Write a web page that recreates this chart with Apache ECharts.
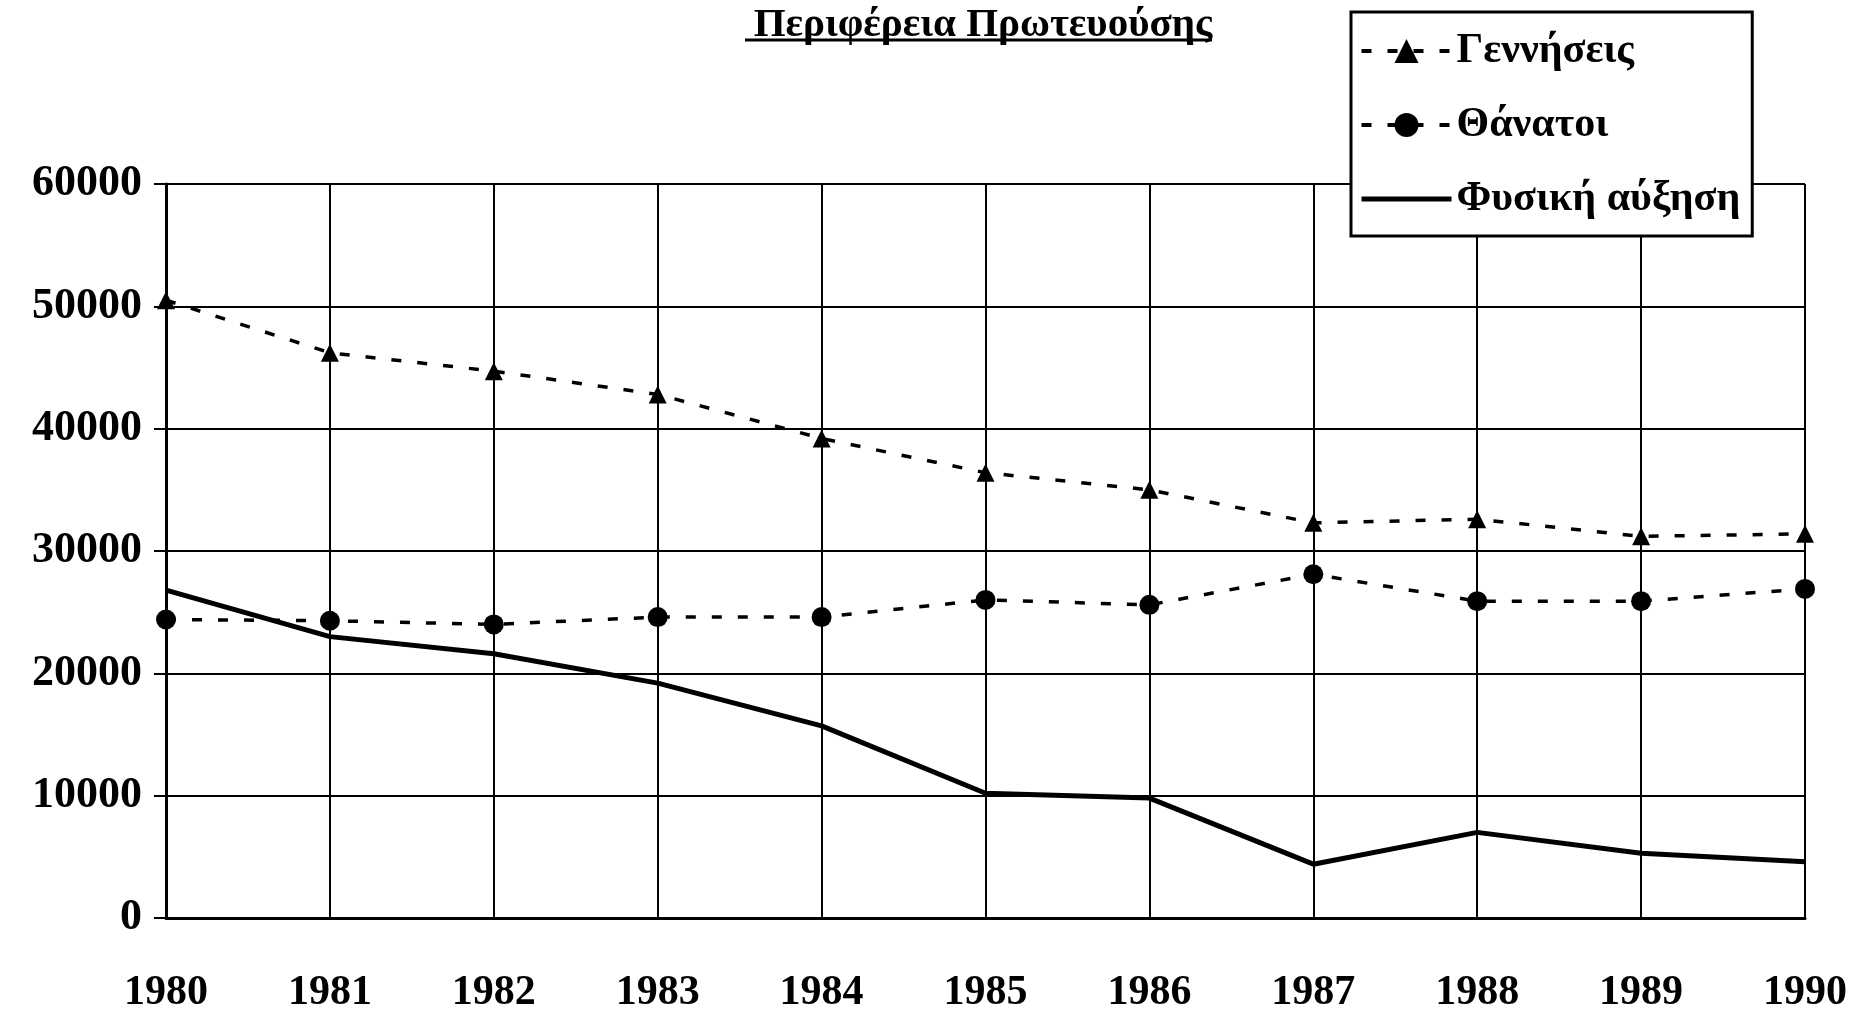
<!DOCTYPE html>
<html><head><meta charset="utf-8">
<script src="https://cdn.jsdelivr.net/npm/echarts@6/dist/echarts.min.js"></script>
<style>html,body{margin:0;padding:0;background:#fff}#c{width:1858px;height:1025px}</style>
</head><body><div id="c"></div>
<script>
const years = ['1980','1981','1982','1983','1984','1985','1986','1987','1988','1989','1990'];
const births = [50500, 46200, 44700, 42800, 39200, 36400, 35000, 32300, 32600, 31200, 31400];
const deaths = [24400, 24300, 24000, 24600, 24600, 26000, 25600, 28100, 25900, 25900, 26900];
const natural = [26800, 23000, 21600, 19200, 15700, 10200, 9800, 4400, 7000, 5300, 4600];
const seriesNames = ['Γεννήσεις', 'Θάνατοι', 'Φυσική αύξηση'];
const titleText = 'Περιφέρεια Πρωτευούσης';

const F = '"Liberation Serif", "DejaVu Serif", serif';
const chart = echarts.init(document.getElementById('c'));
chart.setOption({
  animation: false,
  backgroundColor: '#fff',
  title: {
    text: titleText, left: 978, top: 0, textAlign: 'center',
    textStyle: {fontFamily: F, fontWeight: 'bold', fontSize: 41, color: '#000'}
  },
  graphic: [{
    type: 'line', shape: {x1: 745, y1: 40, x2: 1212, y2: 40},
    style: {stroke: '#000', lineWidth: 3}
  }],
  legend: {
    orient: 'vertical', left: 1351, top: 12, z: 10,
    backgroundColor: '#fff', borderColor: '#000', borderWidth: 3,
    padding: [18, 12, 16, 8], itemGap: 32, itemWidth: 90, itemHeight: 30,
    textStyle: {fontFamily: F, fontWeight: 'bold', fontSize: 42, color: '#000'},
    data: [
      {name: seriesNames[0], lineStyle: {width: 4}},
      {name: seriesNames[1], lineStyle: {width: 4}},
      {name: seriesNames[2], itemStyle: {opacity: 0}, lineStyle: {width: 5}}
    ]
  },
  grid: {left: 166, right: 53, top: 184, bottom: 107, containLabel: false},
  xAxis: {
    type: 'category', data: years, boundaryGap: false,
    axisLine: {lineStyle: {color: '#000', width: 3}},
    axisTick: {show: false},
    axisLabel: {fontFamily: F, fontWeight: 'bold', fontSize: 42, color: '#000', margin: 54},
    splitLine: {show: true, lineStyle: {color: '#000', width: 2}}
  },
  yAxis: {
    type: 'value', min: 0, max: 60000, interval: 10000,
    axisLine: {show: true, lineStyle: {color: '#000', width: 3}},
    axisTick: {show: true, length: 12, lineStyle: {color: '#000', width: 2}},
    axisLabel: {fontFamily: F, fontWeight: 'bold', fontSize: 44, color: '#000', margin: 24,
                formatter: v => String(v)},
    splitLine: {show: true, lineStyle: {color: '#000', width: 2}}
  },
  series: [
    {name: seriesNames[0], type: 'line', data: births, symbol: 'triangle', symbolSize: 18,
     itemStyle: {color: '#000'}, lineStyle: {color: '#000', width: 3.5, type: [10, 16]}, z: 3},
    {name: seriesNames[1], type: 'line', data: deaths, symbol: 'circle', symbolSize: 20,
     itemStyle: {color: '#000'}, lineStyle: {color: '#000', width: 3.5, type: [10, 16]}, z: 3},
    {name: seriesNames[2], type: 'line', data: natural, symbol: 'none',
     itemStyle: {color: '#000'}, lineStyle: {color: '#000', width: 5}, z: 3}
  ]
});
</script></body></html>
